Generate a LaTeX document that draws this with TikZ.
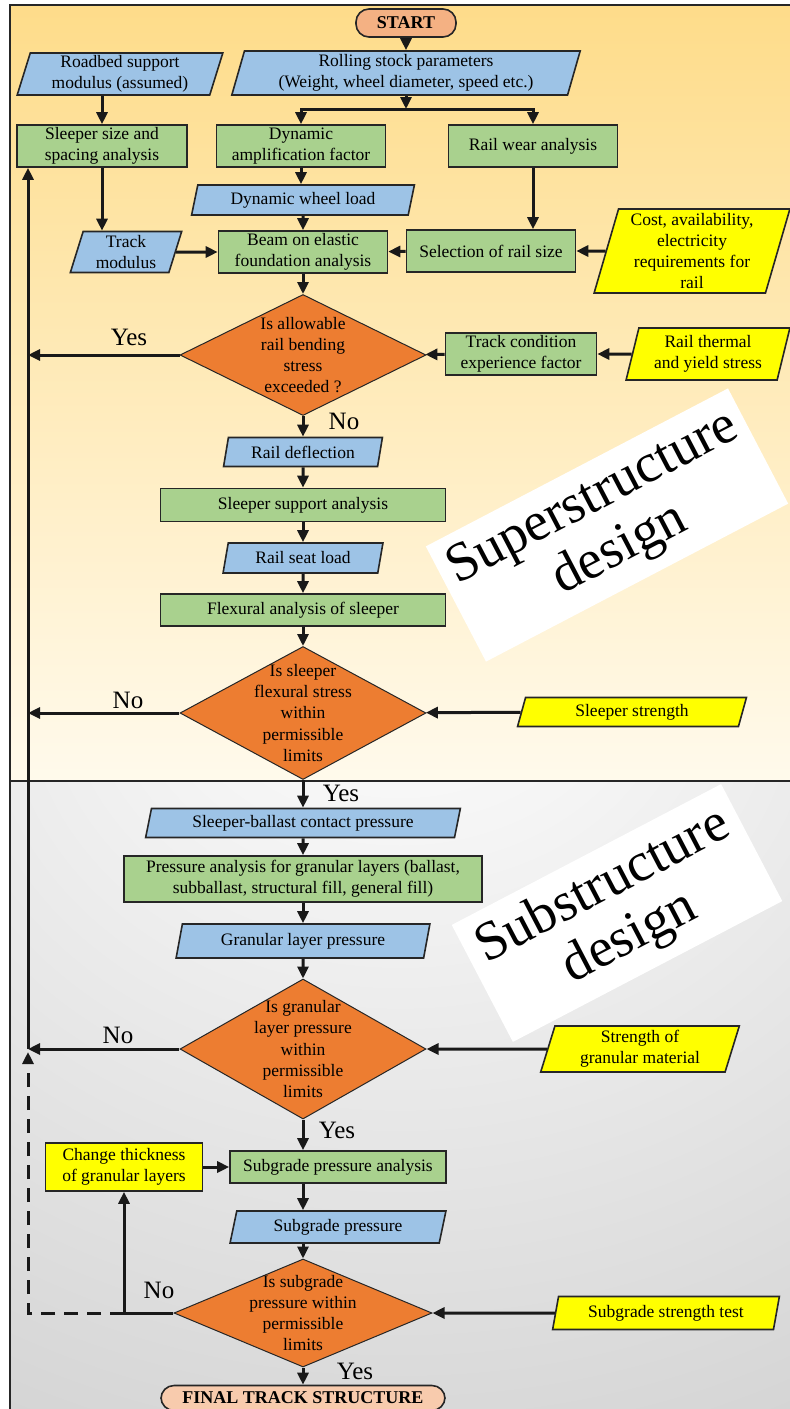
\documentclass[tikz,border=0pt]{standalone}
\usepackage{fontspec}
\setmainfont{Liberation Serif}
\usepackage{tikz}
\usetikzlibrary{calc}
\usetikzlibrary{positioning}
\usetikzlibrary{shapes.geometric}
\usetikzlibrary{arrows.meta}

\definecolor{inblue}{HTML}{9DC3E6}
\definecolor{procgreen}{HTML}{A9D18E}
\definecolor{decorange}{HTML}{ED7D31}
\definecolor{givenyellow}{HTML}{FFFF00}
\definecolor{startsalmon}{HTML}{F4B183}
\definecolor{endpeach}{HTML}{F8CBAD}
\definecolor{edgegray}{HTML}{262626}
\definecolor{panelyellow}{RGB}{254,220,138}
\definecolor{panellight}{RGB}{255,250,236}

\pgfdeclareradialshading{subpanel}{\pgfpoint{0bp}{40bp}}{color(0bp)=(white); color(15bp)=(black!4); color(110bp)=(black!34); color(130bp)=(black!34)}

\begin{document}
\begin{tikzpicture}[x=1pt, y=-1pt, font=\fontsize{17.5}{21.3}\selectfont,
	proc/.style={draw=edgegray, line width=1.6pt, fill=procgreen, inner sep=0pt, align=center},
	inputbox/.style={trapezium, trapezium left angle=75, trapezium right angle=105, trapezium stretches=true, draw=edgegray, line width=1.6pt, fill=inblue, inner sep=0pt, align=center},
	givenbox/.style={inputbox, fill=givenyellow},
	decision/.style={diamond, draw=edgegray, line width=1pt, fill=decorange, inner sep=0pt},
	dtext/.style={align=center, inner sep=0pt},
	terminal/.style={draw=edgegray, line width=1.6pt, rounded corners=13pt, inner sep=0pt, font=\fontsize{18}{21.3}\selectfont\bfseries},
	flow/.style={line width=3pt, draw=black!90, -{Triangle[length=12pt, width=11pt]}},
	answer/.style={font=\fontsize{25}{28}\selectfont, inner sep=0pt},
	stamp/.style={fill=white, rotate=27.6, inner sep=0pt, align=center, font=\fontsize{55}{58}\selectfont}]

	\useasboundingbox (0,0) rectangle (790,1409);

	%Background
	\fill[top color=panelyellow, bottom color=panellight] (10,5) rectangle (790,781);
	\fill[shading=subpanel] (10,781) rectangle (790,1409);

	%Frame
	\draw[line width=1.8pt, draw=edgegray] (790,5) -- (10,5) -- (10,1409);
	\draw[line width=1.8pt, draw=edgegray] (10,781) -- (790,781);

	%Stamps
	\node[stamp, minimum width=341, minimum height=130] (supstamp) at (607,525) {Superstructure\\design};
	\node[stamp, minimum width=304, minimum height=132] (substamp) at (617,913) {Substructure\\design};

	%Superstructure
	\node[terminal, fill=startsalmon, minimum width=100, minimum height=28] (start) at (406,23) {START};
	\node[inputbox, minimum width=349, minimum height=44] (roll) at (406,73) {Rolling stock parameters\\(Weight, wheel diameter, speed etc.)};
	\node[inputbox, minimum width=206, minimum height=42] (roadbed) at (120,74) {Roadbed support\\modulus (assumed)};
	\coordinate (split) at (406,109);
	\node[proc, minimum width=170, minimum height=42] (sleeper) at (102,146) {Sleeper size and\\spacing analysis};
	\node[proc, minimum width=169, minimum height=42] (daf) at (301,146) {Dynamic\\amplification factor};
	\node[proc, minimum width=169, minimum height=42] (wear) at (533,146) {Rail wear analysis};
	\node[inputbox, minimum width=223, minimum height=30] (dwl) at (303,200) {Dynamic wheel load};
	\node[inputbox, minimum width=112, minimum height=41] (tmod) at (126,252) {Track\\modulus};
	\node[proc, minimum width=169, minimum height=42] (beam) at (303,252) {Beam on elastic\\foundation analysis};
	\node[proc, minimum width=169, minimum height=42] (sel) at (491,251) {Selection of rail size};
	\node[givenbox, minimum width=196, minimum height=84] (cost) at (692,251) {Cost, availability,\\electricity\\requirements for\\rail};

	\node[decision, minimum width=246, minimum height=121, label={[dtext]center:{Is allowable\\rail bending\\stress\\exceeded ?}}] (dec1) at (303,355) {};
	\node[proc, minimum width=151, minimum height=42] (tcef) at (521,354) {Track condition\\experience factor};
	\node[givenbox, minimum width=164, minimum height=52] (therm) at (708,354) {Rail thermal\\and yield stress};

	\node[inputbox, minimum width=159, minimum height=29] (rdefl) at (303,452) {Rail deflection};
	\node[proc, minimum width=285, minimum height=33] (ssa) at (303,505) {Sleeper support analysis};
	\node[inputbox, minimum width=160, minimum height=30] (rsl) at (303,558) {Rail seat load};
	\node[proc, minimum width=285, minimum height=32] (flex) at (303,610) {Flexural analysis of sleeper};
	\node[decision, minimum width=246, minimum height=133, label={[dtext]center:{Is sleeper\\flexural stress\\within\\permissible\\limits}}] (dec2) at (303,713) {};
	\node[givenbox, minimum width=229, minimum height=29] (sstr) at (632,712) {Sleeper strength};

	%Substructure
	\node[inputbox, minimum width=315, minimum height=29] (sbcp) at (303,823) {Sleeper-ballast contact pressure};
	\node[proc, minimum width=358, minimum height=46] (pag) at (303,879) {Pressure analysis for granular layers (ballast,\\subballast, structural fill, general fill)};
	\node[inputbox, minimum width=254, minimum height=34] (glp) at (303,941) {Granular layer pressure};
	\node[decision, minimum width=246, minimum height=140, label={[dtext]center:{Is granular\\layer pressure\\within\\permissible\\limits}}] (dec3) at (303,1049) {};
	\node[givenbox, minimum width=199, minimum height=46] (sgm) at (640,1049) {Strength of\\granular material};

	\node[proc, fill=givenyellow, minimum width=157, minimum height=48] (chg) at (124,1167) {Change thickness\\of granular layers};
	\node[proc, minimum width=216, minimum height=32] (spa) at (338,1167) {Subgrade pressure analysis};
	\node[inputbox, minimum width=216, minimum height=32] (sgp) at (338,1227) {Subgrade pressure};
	\node[decision, minimum width=258, minimum height=108, label={[dtext]center:{Is subgrade\\pressure within\\permissible\\limits}}] (dec4) at (303,1313) {};
	\node[givenbox, minimum width=227, minimum height=33] (sst) at (666,1313) {Subgrade strength test};
	\node[terminal, fill=endpeach, minimum width=284, minimum height=25] (final) at (303,1398) {FINAL TRACK STRUCTURE};

	\coordinate (retx) at (28,0);

	%Answers
	\node[answer] (yes1) at (129,337) {Yes};
	\node[answer] (no1) at (344,421) {No};
	\node[answer] (no2) at (128,700) {No};
	\node[answer] (yes2) at (341,793) {Yes};
	\node[answer] (no3) at (118,1035) {No};
	\node[answer] (yes3) at (337,1130) {Yes};
	\node[answer] (no4) at (159,1290) {No};
	\node[answer] (yes4) at (355,1371) {Yes};

	%Connectors
	\draw[flow] (start) -- (roll);
	\draw[flow] (roll) -- (split);
	\draw[flow] (split) -| (daf);
	\draw[flow] (split) -| (wear);
	\draw[flow] (roadbed.south -| sleeper) -- (sleeper);
	\draw[flow] (sleeper) -- (sleeper |- tmod.north);
	\draw[flow] (daf) -- (daf |- dwl.north);
	\draw[flow] (dwl) -- (beam);
	\draw[flow] (tmod) -- (beam);
	\draw[flow] (wear) -- (wear |- sel.north);
	\draw[flow] (sel) -- (beam);
	\draw[flow] (cost) -- (sel);
	\draw[flow] (beam) -- (dec1);
	\draw[flow] (therm) -- (tcef);
	\draw[flow] (tcef) -- (dec1);
	\draw[flow] (dec1) -- (dec1 -| retx);
	\draw[flow] (dec1) -- (rdefl);
	\draw[flow] (rdefl) -- (ssa);
	\draw[flow] (ssa) -- (rsl);
	\draw[flow] (rsl) -- (flex);
	\draw[flow] (flex) -- (dec2);
	\draw[flow] (sstr) -- (dec2);
	\draw[flow] (dec2) -- (dec2 -| retx);
	\draw[flow] (dec2) -- (sbcp);
	\draw[flow] (sbcp) -- (pag);
	\draw[flow] (pag) -- (glp);
	\draw[flow] (glp) -- (dec3);
	\draw[flow] (sgm) -- (dec3);
	\draw[flow] (dec3) -- (dec3 -| retx);
	\draw[flow] (dec3 -| retx) -- (retx |- sleeper.south);
	\draw[flow] (dec3) -- (dec3 |- spa.north);
	\draw[flow] (chg) -- (spa);
	\draw[flow] (dec3 |- spa.south) -- (dec3 |- sgp.north);
	\draw[flow] (dec3 |- sgp.south) -- (dec4);
	\draw[flow] (sst) -- (dec4);
	\draw[flow] (dec4) -- (final);
	\draw[flow] (dec4) -- (dec4 -| chg) -- (chg);
	\draw[flow, dash pattern=on 14pt off 9pt] (dec4 -| chg) -- (dec4 -| retx) -- ($(dec3 -| retx)+(0,3)$);

\end{tikzpicture}
\end{document}
